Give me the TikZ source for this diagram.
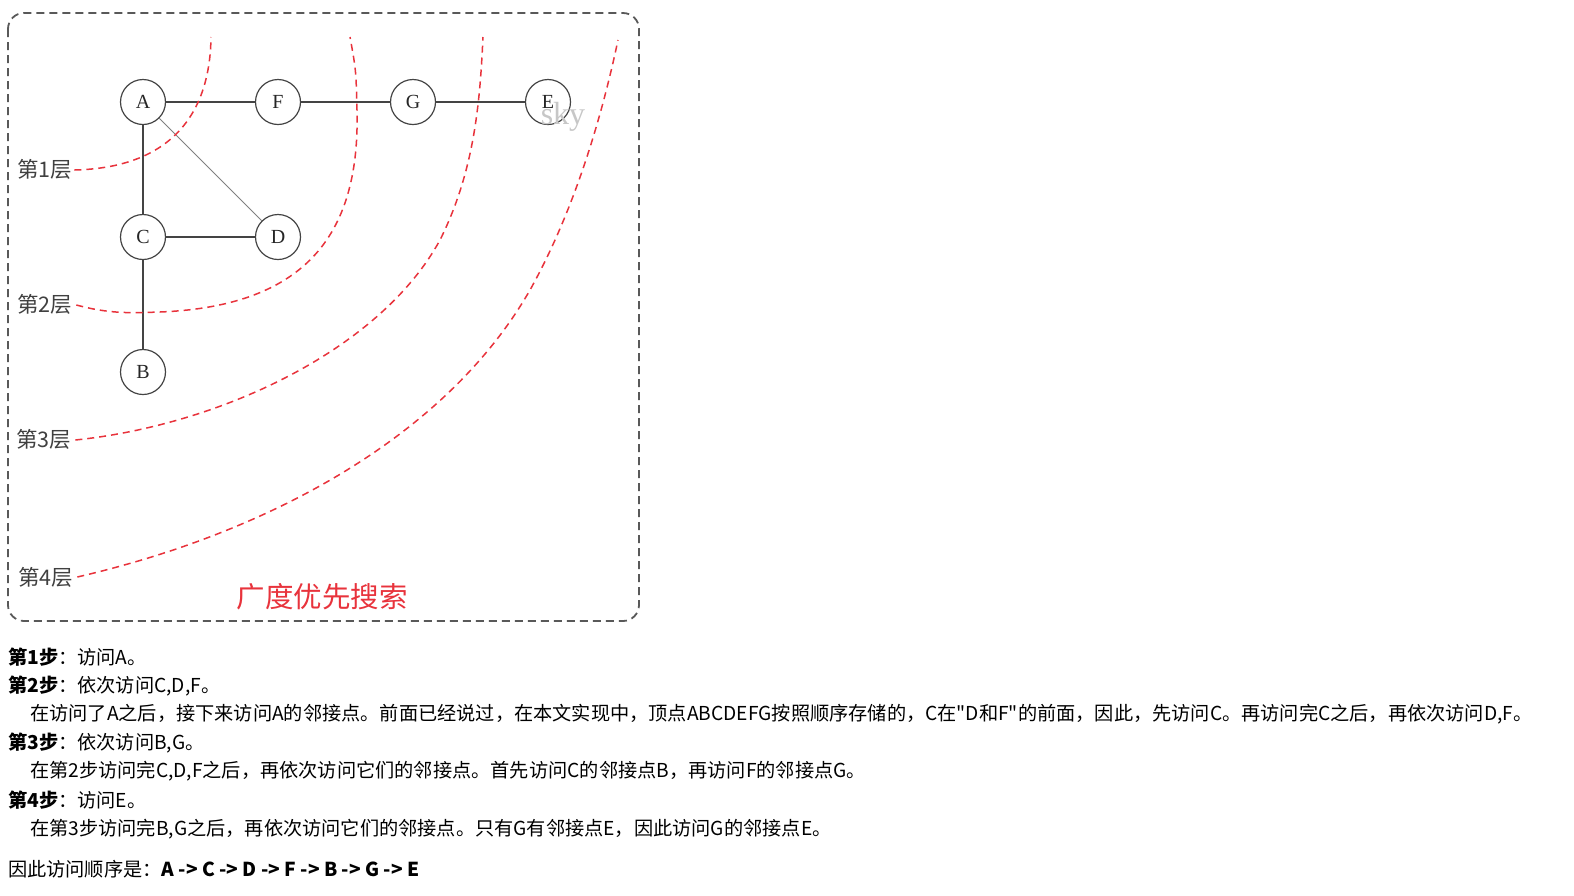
\documentclass[tikz,border=0pt]{standalone}
\usepackage{fontspec}
\setmainfont{Liberation Serif}
\newfontfamily\cjk{Noto Sans CJK SC}
\definecolor{layred}{HTML}{E8333C}
\definecolor{edgegray}{HTML}{444444}
\begin{document}
\begin{tikzpicture}[x=1pt,y=-1pt,
  vtx/.style={circle, draw=edgegray, line width=1.2pt, fill=white, minimum size=45pt, inner sep=0pt, font=\fontsize{20}{20}\selectfont, text=black!85},
  edge/.style={draw=edgegray, line width=1.2pt},
  thinedge/.style={draw=gray, line width=1pt},
  layer/.style={draw=layred, line width=1.5pt, dash pattern=on 7pt off 5pt},
  laylabel/.style={anchor=west, inner sep=0pt, font=\cjk\fontsize{21.5}{21.5}\selectfont, text=black!75},
  body/.style={anchor=west, inner sep=0pt, font=\cjk\fontsize{19.2}{19.2}\selectfont, text=black}
]
\useasboundingbox (0,0) rectangle (1574,895);
% frame
\draw[draw=black!65, line width=1.8pt, dash pattern=on 8pt off 5pt, rounded corners=16pt] (8,13) rectangle (639,621);
% vertices
\node[vtx] (A) at (143,102) {A};
\node[vtx] (F) at (278,102) {F};
\node[vtx] (G) at (413,102) {G};
\node[vtx] (E) at (548,102) {E};
\node[vtx] (C) at (143,237) {C};
\node[vtx] (D) at (278,237) {D};
\node[vtx] (B) at (143,372) {B};
% edges
\draw[edge] (A) -- (F);
\draw[edge] (F) -- (G);
\draw[edge] (G) -- (E);
\draw[edge] (A) -- (C);
\draw[edge] (C) -- (B);
\draw[edge] (C) -- (D);
\draw[thinedge] (A) -- (D);
% layer labels
\node[laylabel] (L1) at (17,169) {第1层};
\node[laylabel] (L2) at (17,304) {第2层};
\node[laylabel] (L3) at (16,439) {第3层};
\node[laylabel] (L4) at (18,577) {第4层};
% layer curves
\draw[layer] (L1.east) ++(2,1) .. controls (165,168) and (210,120) .. (211,37);
\draw[layer] (L2.east) ++(4,1) .. controls (110,314) and (130,313) .. (160,312)
   .. controls (310,306) and (360,230) .. (357,110) .. controls (356,70) .. (350,37);
\draw[layer] (L3.east) ++(4,1) .. controls (220,425) and (380,350) .. (440,240)
   .. controls (475,170) and (480,100) .. (483,37);
\draw[layer] (L4.east) ++(4,0) .. controls (280,530) and (450,430) .. (530,290)
   .. controls (568,222) and (598,135) .. (618,40);
% title
\node[font=\cjk\fontsize{28.5}{28.5}\selectfont, text=layred] (title) at (322,597) {广度优先搜索};
% watermark
\node[font=\fontsize{32}{32}\selectfont, text=black!22] (sky) at (563,117) {sky};
% text body
\node[body] (s1) at (8,657) {\textbf{第1步}：访问A。};
\node[body] (s2) at (8,686) {\textbf{第2步}：依次访问C,D,F。};
\node[body] (t2) at (30,714) {在访问了A之后，接下来访问A的邻接点。前面已经说过，在本文实现中，顶点ABCDEFG按照顺序存储的，C在"D和F"的前面，因此，先访问C。再访问完C之后，再依次访问D,F。};
\node[body] (s3) at (8,743) {\textbf{第3步}：依次访问B,G。};
\node[body] (t3) at (30,771) {在第2步访问完C,D,F之后，再依次访问它们的邻接点。首先访问C的邻接点B，再访问F的邻接点G。};
\node[body] (s4) at (8,800) {\textbf{第4步}：访问E。};
\node[body] (t4) at (30,829) {在第3步访问完B,G之后，再依次访问它们的邻接点。只有G有邻接点E，因此访问G的邻接点E。};
\node[body] (res) at (8,869) {因此访问顺序是：\textbf{A -> C -> D -> F -> B -> G -> E}};
\end{tikzpicture}
\end{document}
